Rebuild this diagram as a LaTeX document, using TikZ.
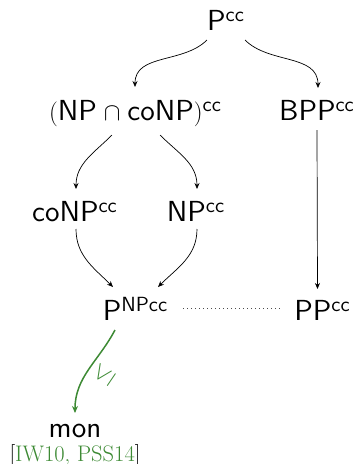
\documentclass[tikz,border=0pt]{standalone}
\usepackage{fontspec}
\usetikzlibrary{arrows.meta}
\newfontfamily\lmsten{lmsans10-regular}[Extension=.otf]
\definecolor{cgreen}{RGB}{61,138,52}
\newcommand\hcc[1]{\raisebox{9pt}{\fontsize{20.5}{20.5}\selectfont #1}}
\begin{document}
\begin{tikzpicture}[x=1pt,y=-1pt,
  lbl/.style={font=\lmsten\fontsize{29}{32}\selectfont, inner sep=0pt, anchor=base},
  arr/.style={-{Stealth[length=6pt,width=5pt]}, line width=0.7pt},
  garr/.style={-{Stealth[length=7pt,width=6pt]}, line width=1.5pt, cgreen}]
\useasboundingbox (0,0) rectangle (357,464);
\node[lbl] (pcc)  at (225.5,30) {P\hcc{cc}};
\node[lbl] (cap)  at (135,120) {$($NP$\;\cap\;$coNP$)$\hcc{cc}};
\node[lbl] (bpp)  at (316.5,120) {BPP\hcc{cc}};
\node[lbl] (conp) at (74.5,221) {coNP\hcc{cc}};
\node[lbl] (np)   at (195.5,221) {NP\hcc{cc}};
\node[lbl] (pnp)  at (135,320) {P\hcc{NPcc}};
\node[lbl] (pp)   at (322,320) {PP\hcc{cc}};
\node[lbl] (mon)  at (75,437) {mon};
\node[inner sep=0pt, anchor=base, font=\fontsize{22.5}{24}\selectfont] (cite) at (75,461) {\textcolor{black}{[}\textcolor{cgreen}{IW10, PSS14}\textcolor{black}{]}};
\draw[arr] ([xshift=-18.5pt,yshift=-10pt]pcc.base) to[out=-135,in=90] ([yshift=33pt]cap.base);
\draw[arr] ([xshift=19.5pt,yshift=-10pt]pcc.base) to[out=-45,in=90] ([xshift=1.5pt,yshift=32pt]bpp.base);
\draw[arr] ([xshift=-23pt,yshift=-15pt]cap.base) to[out=-135,in=90] ([xshift=1.5pt,yshift=32pt]conp.base);
\draw[arr] ([xshift=25pt,yshift=-15pt]cap.base) to[out=-45,in=90] ([xshift=1.5pt,yshift=32pt]np.base);
\draw[arr] ([xshift=1.5pt,yshift=-8pt]conp.base) to[out=-90,in=135] ([xshift=-22pt,yshift=33pt]pnp.base);
\draw[arr] ([xshift=1.5pt,yshift=-8pt]np.base) to[out=-90,in=45] ([xshift=23pt,yshift=33pt]pnp.base);
\draw[arr] ([xshift=0.5pt,yshift=-10pt]bpp.base) -- ([xshift=-4.5pt,yshift=31pt]pp.base);
\draw[line width=0.6pt, dash pattern=on 0.8pt off 3.2pt, black!70] ([xshift=48pt,yshift=12pt]pnp.base) -- ([xshift=-40pt,yshift=12pt]pp.base);
\draw[garr] ([xshift=-20pt,yshift=-10pt]pnp.base) to[out=-118,in=90]
  node[pos=0.45, sloped, below, inner sep=5pt, font=\fontsize{29}{29}\selectfont] (le) {$\leq$}
  ([yshift=24pt]mon.base);
\end{tikzpicture}
\end{document}
